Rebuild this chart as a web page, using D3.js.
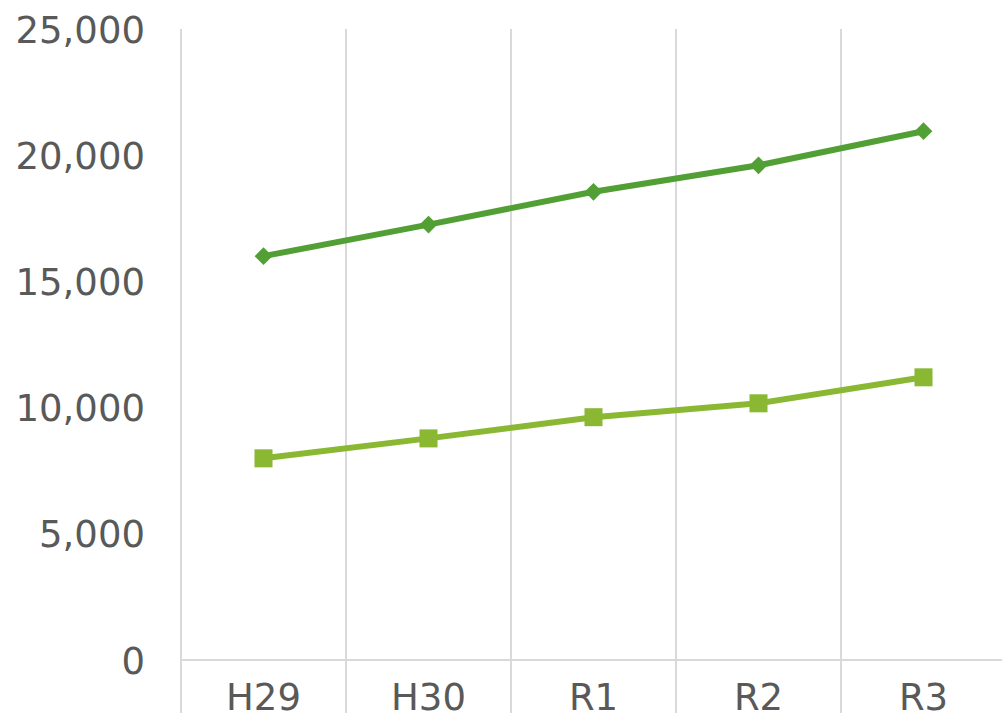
<!DOCTYPE html>
<html><head><meta charset="utf-8">
<script src="https://cdn.jsdelivr.net/npm/d3@7"></script>
<style>html,body{margin:0;padding:0;background:#fff;overflow:hidden}</style>
</head><body>
<svg id="c" width="1002" height="713"></svg>
<script>
const categories = ["H29", "H30", "R1", "R2", "R3"];
const seriesA = [16000, 17250, 18550, 19600, 20950];
const seriesB = [7990, 8780, 9620, 10170, 11200];
const yTicks = [0, 5000, 10000, 15000, 20000, 25000];

(function () {
const svg = d3.select("#c");
const plotLeft = 181, bandW = 165, plotTop = 29, plotBottom = 660;
const x = d3.scaleBand().domain(categories).range([plotLeft, plotLeft + bandW * categories.length]).padding(0);
const y = d3.scaleLinear().domain([0, 25000]).range([plotBottom, plotTop]);
const fmt = d3.format(",");

const bounds = categories.map(c => x(c)).concat([x(categories[categories.length-1]) + x.bandwidth()]);
svg.append("g").selectAll("line").data(bounds).join("line")
  .attr("x1", d => d).attr("x2", d => d).attr("y1", plotTop).attr("y2", 713)
  .attr("stroke", "#d9d9d9").attr("stroke-width", 2);

svg.append("line").attr("x1", plotLeft).attr("x2", 1002).attr("y1", y(0)).attr("y2", y(0))
  .attr("stroke", "#d9d9d9").attr("stroke-width", 2);

svg.append("g").selectAll("text").data(yTicks).join("text")
  .attr("x", 145).attr("y", d => y(d)).attr("dy", "0.37em")
  .attr("text-anchor", "end").attr("font-family", "DejaVu Sans, Verdana, sans-serif")
  .attr("font-size", 37).attr("fill", "#595959").text(d => fmt(d));

svg.append("g").selectAll("text").data(categories).join("text")
  .attr("x", d => x(d) + x.bandwidth() / 2).attr("y", 710)
  .attr("text-anchor", "middle").attr("font-family", "DejaVu Sans, Verdana, sans-serif")
  .attr("font-size", 37).attr("fill", "#595959").text(d => d);

const cx = (d, i) => x(categories[i]) + x.bandwidth() / 2;
const line = d3.line().x(cx).y(d => y(d));

svg.append("path").datum(seriesA).attr("d", line).attr("fill", "none")
  .attr("stroke", "#52a035").attr("stroke-width", 6).attr("stroke-linejoin", "round");
svg.append("path").datum(seriesB).attr("d", line).attr("fill", "none")
  .attr("stroke", "#8ab833").attr("stroke-width", 6).attr("stroke-linejoin", "round");

const dSym = d3.symbol().type(d3.symbolDiamond2).size(200);
svg.append("g").selectAll("path").data(seriesA).join("path")
  .attr("transform", (d, i) => `translate(${cx(d, i)},${y(d)})`)
  .attr("d", dSym).attr("fill", "#52a035");

svg.append("g").selectAll("rect").data(seriesB).join("rect")
  .attr("x", (d, i) => cx(d, i) - 9).attr("y", d => y(d) - 9)
  .attr("width", 18).attr("height", 18).attr("fill", "#8ab833");
})();
</script>
</body></html>
